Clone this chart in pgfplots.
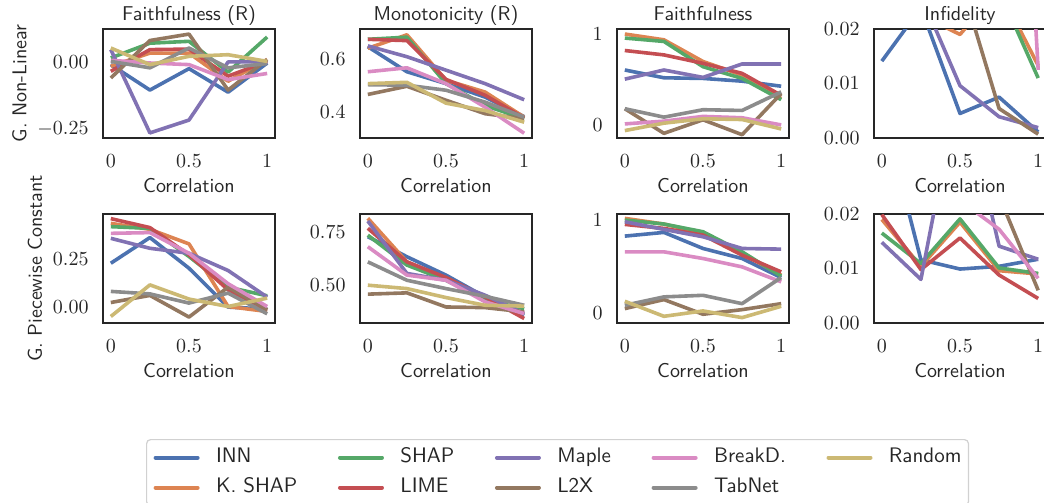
\documentclass[border=0pt]{standalone}
\usepackage{pgfplots}
\pgfplotsset{compat=1.18}
\usepackage{pgfplotstable}
\definecolor{cINN}{HTML}{4C72B0}
\definecolor{cKSHAP}{HTML}{DD8452}
\definecolor{cSHAP}{HTML}{55A868}
\definecolor{cLIME}{HTML}{C44E52}
\definecolor{cMaple}{HTML}{8172B3}
\definecolor{cLTX}{HTML}{937860}
\definecolor{cBreakD}{HTML}{DA8BC3}
\definecolor{cTabNet}{HTML}{8C8C8C}
\definecolor{cRandom}{HTML}{CCB974}
\definecolor{txt}{HTML}{262626}

\pgfplotstableread{
x inn kshap shap lime maple l2x breakd tabnet random
0 -0.010 -0.016 0.015 -0.035 0.046 -0.060 0.006 0.002 0.052
0.25 -0.105 0.033 0.070 0.046 -0.265 0.080 -0.004 -0.022 -0.010
0.5 -0.025 0.033 0.077 0.048 -0.217 0.104 -0.010 0.052 0.021
0.75 -0.113 -0.072 -0.038 -0.053 0.000 -0.105 -0.066 -0.022 0.027
1 -0.004 0.009 0.093 0.002 0.000 0.009 -0.043 -0.006 0.002
}\frnl
\pgfplotstableread{
x inn kshap shap lime maple l2x breakd tabnet random
0 0.648 0.642 0.676 0.676 0.651 0.467 0.553 0.504 0.508
0.25 0.553 0.693 0.684 0.671 0.610 0.498 0.568 0.502 0.513
0.5 0.508 0.521 0.508 0.524 0.559 0.445 0.508 0.483 0.434
0.75 0.457 0.476 0.425 0.464 0.508 0.394 0.419 0.438 0.406
1 0.383 0.381 0.375 0.378 0.447 0.375 0.320 0.381 0.362
}\mrnl
\pgfplotstableread{
x inn kshap shap lime maple l2x breakd tabnet random
0 0.607 1.000 0.956 0.820 0.507 0.184 0.018 0.184 -0.055
0.25 0.522 0.937 0.919 0.772 0.607 -0.085 0.048 0.092 0.026
0.5 0.515 0.700 0.643 0.680 0.526 0.063 0.100 0.173 0.074
0.75 0.485 0.551 0.515 0.570 0.673 -0.100 0.085 0.165 0.066
1 0.430 0.294 0.283 0.330 0.673 0.350 0.007 0.368 -0.037
}\fnl
\pgfplotstableread{
x inn kshap shap lime maple l2x breakd tabnet random
0 0.0141 0.030 0.035 0.050 0.030 0.040 0.060 0.080 0.070
0.25 0.0239 0.0225 0.035 0.060 0.0262 0.035 0.080 0.080 0.070
0.5 0.0045 0.0190 0.035 0.060 0.0096 0.0292 0.100 0.080 0.070
0.75 0.0075 0.0273 0.0271 0.050 0.0039 0.0054 0.140 0.080 0.070
1 0.0011 0.0133 0.0110 0.040 0.0019 0.0007 0.0125 0.080 0.070
}\infnl
\pgfplotstableread{
x inn kshap shap lime maple l2x breakd tabnet random
0 0.229 0.437 0.420 0.462 0.359 0.024 0.385 0.082 -0.049
0.25 0.363 0.406 0.411 0.415 0.307 0.061 0.389 0.069 0.116
0.5 0.203 0.330 0.264 0.273 0.281 -0.052 0.281 0.021 0.042
0.75 0.000 0.003 0.104 0.090 0.191 0.104 0.122 0.073 0.003
1 -0.010 -0.023 0.059 -0.014 0.052 -0.014 0.003 -0.035 0.047
}\frpc
\pgfplotstableread{
x inn kshap shap lime maple l2x breakd tabnet random
0 0.727 0.813 0.734 0.766 0.800 0.458 0.680 0.609 0.500
0.25 0.633 0.609 0.594 0.609 0.555 0.464 0.547 0.523 0.484
0.5 0.547 0.531 0.523 0.536 0.523 0.398 0.523 0.484 0.442
0.75 0.445 0.438 0.430 0.445 0.453 0.395 0.422 0.448 0.406
1 0.359 0.367 0.390 0.344 0.367 0.375 0.367 0.406 0.402
}\mrpc
\pgfplotstableread{
x inn kshap shap lime maple l2x breakd tabnet random
0 0.827 1.018 1.000 0.953 0.982 0.047 0.658 0.083 0.126
0.25 0.867 0.957 0.957 0.910 0.899 0.144 0.658 0.173 -0.036
0.5 0.694 0.856 0.874 0.838 0.820 -0.014 0.586 0.190 0.022
0.75 0.586 0.640 0.658 0.622 0.694 0.036 0.496 0.100 -0.050
1 0.381 0.406 0.396 0.442 0.687 0.100 0.335 0.381 0.072
}\fpc
\pgfplotstableread{
x inn kshap shap lime maple l2x breakd tabnet random
0 0.0395 0.0190 0.0165 0.0199 0.0148 0.040 0.030 0.080 0.070
0.25 0.0116 0.0104 0.0109 0.0098 0.0080 0.035 0.030 0.080 0.070
0.5 0.0099 0.0185 0.0191 0.0156 0.0450 0.030 0.0225 0.080 0.070
0.75 0.0104 0.0096 0.0101 0.0088 0.0141 0.0233 0.0172 0.080 0.070
1 0.0117 0.0090 0.0091 0.0045 0.0117 0.0060 0.0082 0.080 0.070
}\infpc

\newcommand{\plotall}[1]{%
\addplot[cINN] table[x=x,y=inn]{#1};
\addplot[cKSHAP] table[x=x,y=kshap]{#1};
\addplot[cSHAP] table[x=x,y=shap]{#1};
\addplot[cLIME] table[x=x,y=lime]{#1};
\addplot[cMaple] table[x=x,y=maple]{#1};
\addplot[cLTX] table[x=x,y=l2x]{#1};
\addplot[cBreakD] table[x=x,y=breakd]{#1};
\addplot[cTabNet] table[x=x,y=tabnet]{#1};
\addplot[cRandom] table[x=x,y=random]{#1};
}

\pgfplotsset{panel/.style={
  scale only axis, width=86pt, height=54.5pt,
  anchor=north west,
  xmin=-0.05, xmax=1.05,
  xtick={0,0.5,1}, xticklabels={$0$,$0.5$,$1$},
  scaled y ticks=false,
  major tick length=0pt,
  axis line style={txt, line width=1pt},
  xlabel={Correlation},
  label style={font=\sffamily, text=txt},
  tick label style={text=txt},
  title style={font=\sffamily, text=txt, anchor=base, yshift=-1.85pt},
  xticklabel style={yshift=-4.7pt},
  yticklabel style={xshift=-3.7pt},
  xlabel style={yshift=1.5pt},
  ylabel style={yshift=-1.4pt},
  every axis plot/.append style={line width=1.8pt, line join=round, no markers},
}}

\begin{document}
\begin{tikzpicture}
% row 1
\begin{axis}[panel, at={(51.5pt,-14.5pt)}, title={Faithfulness (R)}, ylabel={G. Non-Linear},
  ymin=-0.284, ymax=0.123, ytick={-0.25,0}, yticklabels={$-0.25$,$0.00$}]
\plotall{\frnl}
\end{axis}
\begin{axis}[panel, at={(180pt,-14.5pt)}, title={Monotonicity (R)},
  ymin=0.302, ymax=0.715, ytick={0.4,0.6}, yticklabels={$0.4$,$0.6$}]
\plotall{\mrnl}
\end{axis}
\begin{axis}[panel, at={(308.5pt,-14.5pt)}, title={Faithfulness},
  ymin=-0.136, ymax=1.055, ytick={0,1}, yticklabels={$0$,$1$}]
\plotall{\fnl}
\end{axis}
\begin{axis}[panel, at={(437pt,-14.5pt)}, title={Infidelity},
  ymin=0, ymax=0.02, ytick={0,0.01,0.02}, yticklabels={$0.00$,$0.01$,$0.02$}]
\plotall{\infnl}
\end{axis}
% row 2
\begin{axis}[panel, at={(51.5pt,-107pt)}, ylabel={G. Piecewise Constant},
  ymin=-0.083, ymax=0.486, ytick={0,0.25}, yticklabels={$0.00$,$0.25$}]
\plotall{\frpc}
\end{axis}
\begin{axis}[panel, at={(180pt,-107pt)},
  ymin=0.323, ymax=0.833, ytick={0.5,0.75}, yticklabels={$0.50$,$0.75$}]
\plotall{\mrpc}
\end{axis}
\begin{axis}[panel, at={(308.5pt,-107pt)},
  ymin=-0.108, ymax=1.065, ytick={0,1}, yticklabels={$0$,$1$}]
\plotall{\fpc}
\end{axis}
\begin{axis}[panel, at={(437pt,-107pt)},
  ymin=0, ymax=0.02, ytick={0,0.01,0.02}, yticklabels={$0.00$,$0.01$,$0.02$}]
\plotall{\infpc}
\end{axis}
% legend
\begin{axis}[at={(73pt,-219.5pt)}, anchor=north west, scale only axis, width=413pt, height=10pt,
  hide axis, xmin=0, xmax=1, ymin=0, ymax=1,
  legend columns=5,
  legend cell align=left,
  legend image code/.code={\draw[#1, line width=2pt, line cap=round] (1pt,0pt) -- (22pt,0pt);},
  legend style={at={(0,1)}, anchor=north west, draw=black!18, line width=0.6pt, rounded corners=2pt,
    font=\sffamily\fontsize{10.5}{12}\selectfont, text=txt,
    inner xsep=3.5pt, inner ysep=4pt, row sep=5pt,
    nodes={inner sep=0pt, text height=7.5pt, text depth=2.5pt},
    /tikz/every odd column/.append style={column sep=8.2pt},
    /tikz/every even column/.append style={column sep=20.3pt}}]
\addlegendimage{cINN}\addlegendentry{INN}
\addlegendimage{cSHAP}\addlegendentry{SHAP}
\addlegendimage{cMaple}\addlegendentry{Maple}
\addlegendimage{cBreakD}\addlegendentry{BreakD.}
\addlegendimage{cRandom}\addlegendentry{Random}
\addlegendimage{cKSHAP}\addlegendentry{K. SHAP}
\addlegendimage{cLIME}\addlegendentry{LIME}
\addlegendimage{cLTX}\addlegendentry{L2X}
\addlegendimage{cTabNet}\addlegendentry{TabNet}
\end{axis}
\pgfresetboundingbox
\path[use as bounding box] (0pt,0pt) rectangle (522pt,-251.5pt);
\end{tikzpicture}
\end{document}
